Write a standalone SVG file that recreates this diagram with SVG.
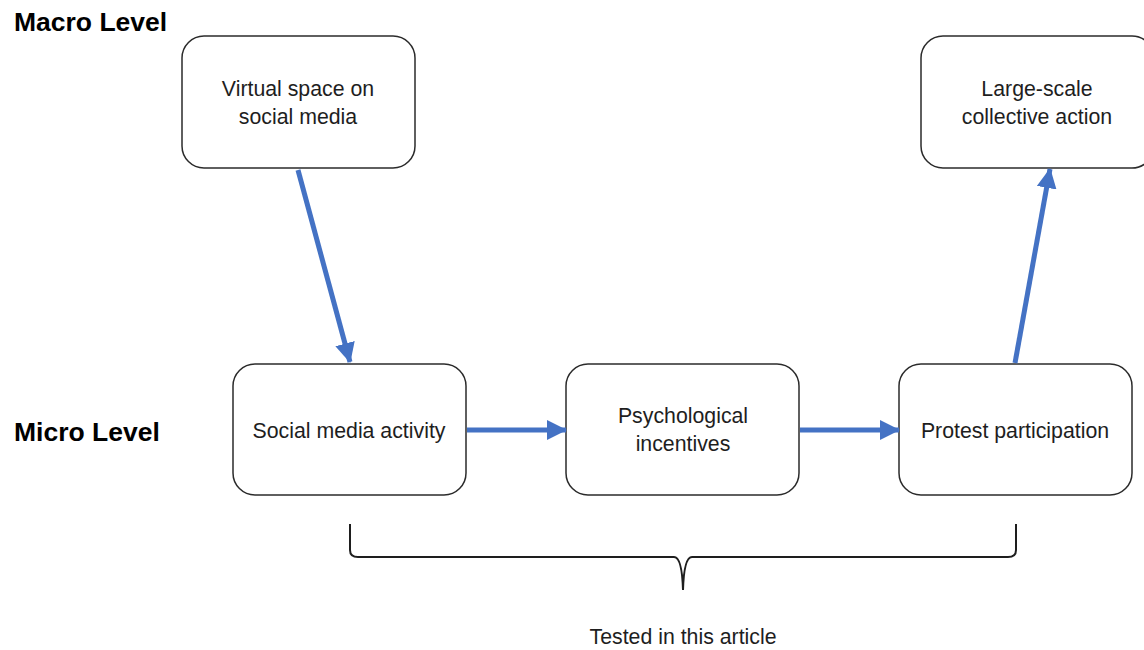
<svg xmlns="http://www.w3.org/2000/svg" width="1144" height="650" viewBox="0 0 1144 650">
  <style>
    .box { fill: #ffffff; stroke: #2b2b2b; stroke-width: 1.5; }
    .lbl { font-family: "Liberation Sans", Arial, sans-serif; font-size: 21.3px; fill: #1e1e1e; text-anchor: middle; }
    .lvl { font-family: "Liberation Sans", Arial, sans-serif; font-size: 26.5px; font-weight: bold; fill: #000000; }
    .link { fill: none; stroke: #4472C4; stroke-width: 5; marker-end: url(#head); }
    .brace { fill: none; stroke: #1e1e1e; stroke-width: 2; }
  </style>
  <defs>
    <marker id="head" markerUnits="userSpaceOnUse" markerWidth="20" markerHeight="20" refX="19" refY="10" orient="auto">
      <path d="M0,0 L20,10 L0,20 z" fill="#4472C4"/>
    </marker>
  </defs>
  <rect width="1144" height="650" fill="#ffffff"/>

  <text class="lvl" x="14" y="31">Macro Level</text>
  <text class="lvl" x="14" y="441">Micro Level</text>

  <g id="virtual-space">
    <rect class="box" x="182" y="36" width="233" height="132" rx="22"/>
    <text class="lbl" x="298" y="96">Virtual space on</text>
    <text class="lbl" x="298" y="124">social media</text>
  </g>
  <g id="collective-action">
    <rect class="box" x="921" y="36" width="233" height="132" rx="22"/>
    <text class="lbl" x="1037" y="96">Large-scale</text>
    <text class="lbl" x="1037" y="124">collective action</text>
  </g>
  <g id="social-media-activity">
    <rect class="box" x="233" y="364" width="233" height="131" rx="22"/>
    <text class="lbl" x="349" y="438">Social media activity</text>
  </g>
  <g id="psychological-incentives">
    <rect class="box" x="566" y="364" width="233" height="131" rx="22"/>
    <text class="lbl" x="683" y="423">Psychological</text>
    <text class="lbl" x="683" y="451">incentives</text>
  </g>
  <g id="protest-participation">
    <rect class="box" x="899" y="364" width="233" height="131" rx="22"/>
    <text class="lbl" x="1015" y="438">Protest participation</text>
  </g>

  <g id="connectors">
    <line class="link" x1="298" y1="170" x2="350" y2="362"/>
    <line class="link" x1="467" y1="430" x2="566" y2="430"/>
    <line class="link" x1="800" y1="430" x2="899" y2="430"/>
    <line class="link" x1="1015" y1="363" x2="1050" y2="169"/>
  </g>

  <g id="tested-brace">
    <path class="brace" d="M350,524 L350,550 Q350,557 358,557 L674,557 Q682,557 683,590 Q684,557 692,557 L1008,557 Q1016,557 1016,550 L1016,524"/>
    <text class="lbl" x="683" y="644">Tested in this article</text>
  </g>
</svg>
